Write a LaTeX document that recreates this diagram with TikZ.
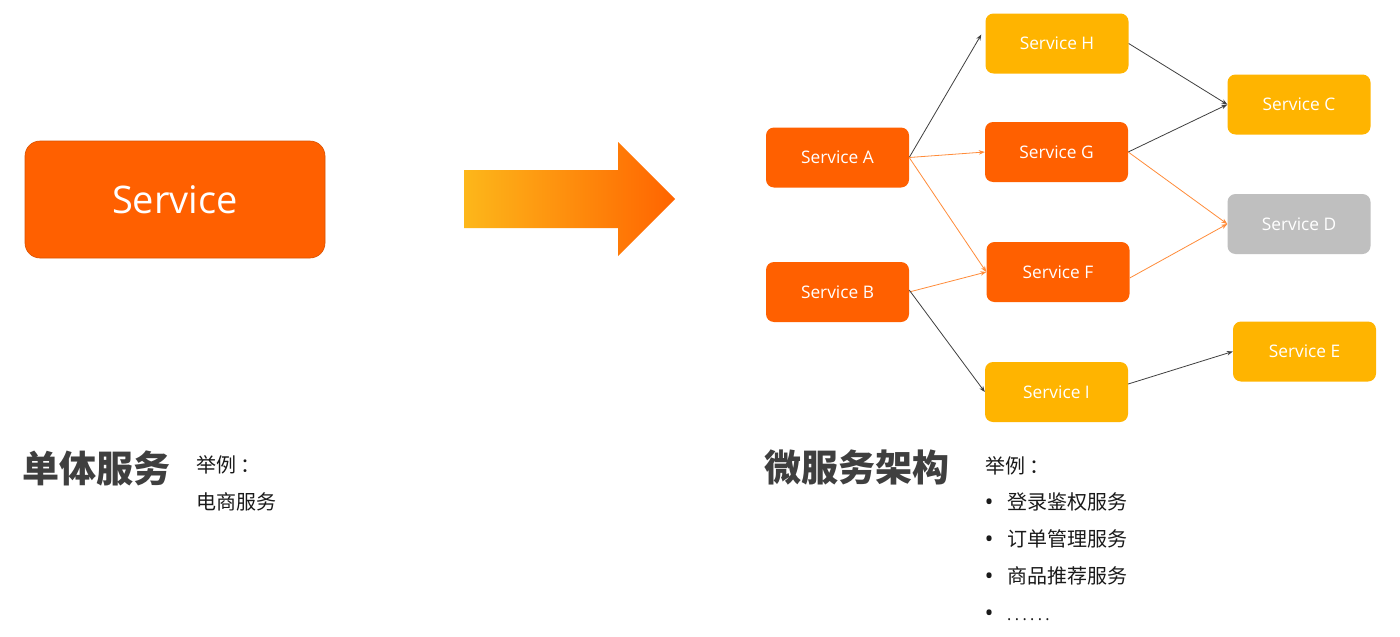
\documentclass[tikz,border=0pt]{standalone}
\usepackage{fontspec}
\setmainfont{Open Sans}
\newfontfamily\cjk{Noto Sans CJK SC}
\usetikzlibrary{arrows.meta}
\definecolor{svcorange}{HTML}{FF6000}
\definecolor{svcyellow}{HTML}{FFB400}
\definecolor{svcgray}{HTML}{BFBFBF}
\definecolor{lineorange}{HTML}{FF8C3A}
\definecolor{linedark}{HTML}{404040}
\definecolor{headcol}{HTML}{3F3F3F}
\definecolor{txtcol}{HTML}{1A1A1A}
\definecolor{arrL}{HTML}{FDB71A}
\definecolor{arrR}{HTML}{FF6400}
\newcommand{\mydots}{.\kern3.4pt.\kern3.4pt.\kern3.4pt.\kern3.4pt.\kern3.4pt.}
\begin{document}
\begin{tikzpicture}[x=1pt,y=-1pt,
  svc/.style={rounded corners=8pt,minimum width=143pt,minimum height=60pt,inner sep=0pt,
    text=white,font=\fontsize{17.3}{19}\selectfont},
  orangebox/.style={svc,fill=svcorange},
  yellowbox/.style={svc,fill=svcyellow},
  graybox/.style={svc,fill=svcgray},
  darkline/.style={draw=linedark,line width=0.8pt,-{Stealth[length=6pt,width=4.5pt]}},
  orangeline/.style={draw=lineorange,line width=0.8pt,-{Stealth[length=6pt,width=4.5pt]}},
  head/.style={font=\cjk\bfseries\fontsize{37}{40}\selectfont,text=headcol,inner sep=0pt,anchor=west},
  small/.style={font=\cjk\fontsize{20}{22}\selectfont,text=txtcol,inner sep=0pt,anchor=west},
  bul/.style={font=\fontsize{24}{26}\selectfont,text=txtcol,inner sep=0pt,anchor=center},
]
\useasboundingbox (0,0) rectangle (1400,637);
\fill[white] (0,0) rectangle (1400,637);

% monolith
\node[rounded corners=15pt,fill=svcorange,draw=svcorange!85!black,line width=0.6pt,
  minimum width=300pt,minimum height=117pt,inner sep=0pt,text=white,
  font=\fontsize{38}{40}\selectfont] (mono) at (175,199.5) {Service};

% big arrow
\shade[left color=arrL,right color=arrR]
  (464,170) -- (618,170) -- (618,142) -- (675,199) -- (618,256) -- (618,228) -- (464,228) -- cycle;

% microservices
\node[orangebox] (A) at (837.5,157.5) {Service A};
\node[orangebox] (B) at (837.5,292) {Service B};
\node[yellowbox] (H) at (1057,43.5) {Service H};
\node[orangebox] (G) at (1056.5,152) {Service G};
\node[orangebox] (F) at (1058,272) {Service F};
\node[yellowbox] (I) at (1056.5,392) {Service I};
\node[yellowbox] (C) at (1299,104.5) {Service C};
\node[graybox]   (D) at (1299,224) {Service D};
\node[yellowbox] (E) at (1304.5,351.5) {Service E};

\draw[darkline] (A.east) -- ([xshift=-4pt,yshift=9pt]H.west);
\draw[orangeline] (A.east) -- (G.west);
\draw[orangeline] (A.east) -- (F.west);
\draw[orangeline] (B.east) -- (F.west);
\draw[darkline] ([yshift=2pt]B.east) -- (I.west);
\draw[darkline] (H.east) -- (C.west);
\draw[darkline] (G.east) -- (C.west);
\draw[orangeline] (G.east) -- (D.west);
\draw[orangeline] ([yshift=-6pt]F.east) -- (D.west);
\draw[darkline] ([yshift=8pt]I.east) -- (E.west);

% texts
\node[head] (t1) at (22,468) {单体服务};
\node[small] (t1a) at (196,465) {举例\kern4pt：};
\node[small] (t1b) at (196,502) {电商服务};

\node[head] (t2) at (764,467) {微服务架构};
\node[small] (t2a) at (985,466) {举例\kern4pt：};
\node[bul] (b1) at (989,505) {•};
\node[small] (l1) at (1007,502) {登录鉴权服务};
\node[bul] (b2) at (989,542) {•};
\node[small] (l2) at (1007,539) {订单管理服务};
\node[bul] (b3) at (989,579) {•};
\node[small] (l3) at (1007,576) {商品推荐服务};
\node[bul] (b4) at (989,616) {•};
\node[inner sep=0pt,anchor=base west,text=txtcol,font=\fontsize{16}{20}\selectfont] (l4) at (1007,620) {\mydots};
\end{tikzpicture}
\end{document}
